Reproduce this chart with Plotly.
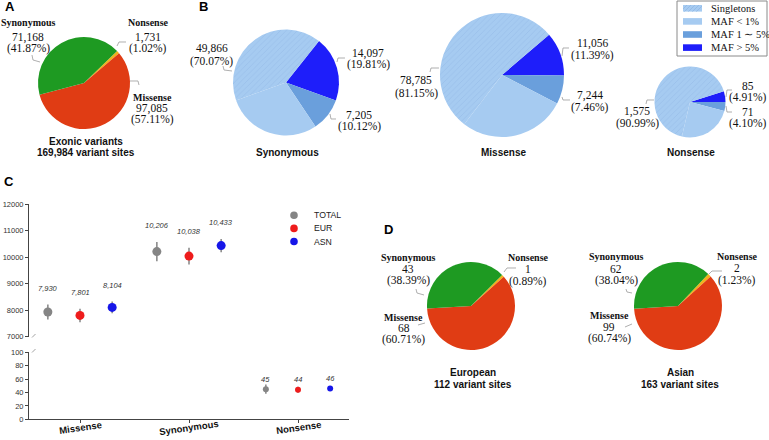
import plotly.graph_objects as go

W, H = 769, 440

# ---------------- data ----------------
# Panel A: exonic variants by class
a_labels = ["Nonsense", "Missense", "Synonymous"]
a_values = [1731, 97085, 71168]
a_title = ["Exonic variants", "169,984 variant sites"]

# Panel B: allele-frequency classes per variant type
b_panels = ["Synonymous", "Missense", "Nonsense"]
b_classes = ["MAF &gt; 5%", "MAF 1 ∼ 5%", "MAF &lt; 1%", "Singletons"]
b_gt5 = [14097, 11056, 85]
b_1to5 = [7205, 7244, 71]
b_lt1 = [20566, 27035, 425]          # estimated split of the rare slice
b_singletons = [29300, 51750, 1150]  # estimated split of the rare slice
b_legend_order = ["Singletons", "MAF &lt; 1%", "MAF 1 ∼ 5%", "MAF &gt; 5%"]

# Panel C: per-individual counts (mean, spread)
c_categories = ["Missense", "Synonymous", "Nonsense"]
c_groups = ["TOTAL", "EUR", "ASN"]
c_means = {
    "TOTAL": [7930, 10206, 45],
    "EUR": [7801, 10038, 44],
    "ASN": [8104, 10433, 46],
}
c_errs = {
    "TOTAL": [280, 365, 7],
    "EUR": [255, 315, 4.5],
    "ASN": [225, 250, 3],
}
c_upper_ticks = [7000, 8000, 9000, 10000, 11000, 12000]
c_lower_ticks = [0, 20, 40, 60, 80, 100]

# Panel D: population-specific variants
d_panels = ["European", "Asian"]
d_labels = ["Nonsense", "Missense", "Synonymous"]
d_values = {"European": [1, 68, 43], "Asian": [2, 99, 62]}

# ---------------- style ----------------
SERIF = "Liberation Serif"
SANS = "Liberation Sans"
GREEN, RED, ORANGE = "#1e9a22", "#e03c14", "#f2b21a"
LIGHT, MID, DARK = "#a6cbf1", "#6a9fdc", "#1e1efa"
HATCH = "#90b6e4"
C_COLORS = {"TOTAL": "#858585", "EUR": "#ee1c1c", "ASN": "#1616e8"}
LINE = "#9a9a9a"


def dom(cx, cy, r):
    return dict(x=[(cx - r) / W, (cx + r) / W], y=[1 - (cy + r) / H, 1 - (cy - r) / H])


def P(x, y):
    return x / W, 1 - y / H


annotations = []
shapes = []


def ann(px, py, text, size=11, family=SERIF, color="#111", xanchor="center", **kw):
    x, y = P(px, py)
    annotations.append(dict(x=x, y=y, xref="paper", yref="paper", text=text, showarrow=False,
                            xanchor=xanchor, yanchor="middle",
                            font=dict(size=size, family=family, color=color), **kw))


def leader(points):
    path = ""
    for i, (x, y) in enumerate(points):
        X, Y = P(x, y)
        path += ("M" if i == 0 else "L") + f"{X:.5f},{Y:.5f}"
    shapes.append(dict(type="path", path=path, xref="paper", yref="paper",
                       line=dict(color=LINE, width=0.8)))


fig = go.Figure()

# ---------------- Panel A ----------------
a_colors = {"Nonsense": ORANGE, "Missense": RED, "Synonymous": GREEN}
fig.add_trace(go.Pie(labels=a_labels, values=a_values, sort=False, direction="clockwise",
                     rotation=46, textinfo="none", showlegend=False,
                     marker=dict(colors=[a_colors[l] for l in a_labels], line=dict(width=0)),
                     domain=dom(84, 83, 46)))
a_total = sum(a_values)
a_pos = {"Synonymous": (28, [23, 37, 48]), "Nonsense": (148, [23, 37, 48]),
         "Missense": (152, [97, 108, 119])}
for lab, v in zip(a_labels, a_values):
    cx, ys = a_pos[lab]
    ann(cx, ys[0], f"<b>{lab}</b>", size=10)
    ann(cx, ys[1], f"{v:,}", size=11.5)
    ann(cx, ys[2], f"({100 * v / a_total:.2f}%)", size=11.5)
leader([(40, 62), (33, 60), (32, 55)])
leader([(117, 46), (119, 42), (126, 42)])
leader([(130, 81), (138, 81), (139, 85)])
ann(86, 141, f"<b>{a_title[0]}</b>", size=10, family=SANS)
ann(86, 153, f"<b>{a_title[1]}</b>", size=10, family=SANS)

# ---------------- Panel B ----------------
b_geom = [(286, 82.5, 53, 38.5), (502, 75, 62, 49.4), (690, 102, 35.5, 72.3)]
for i, name in enumerate(b_panels):
    cx, cy, r, rot = b_geom[i]
    vals = [b_gt5[i], b_1to5[i], b_lt1[i], b_singletons[i]]
    fig.add_trace(go.Pie(labels=b_classes, values=vals, sort=False, direction="clockwise",
                         rotation=rot, textinfo="none", showlegend=False,
                         marker=dict(colors=[DARK, MID, LIGHT, LIGHT], line=dict(width=0),
                                     pattern=dict(shape=["", "", "", "/"], fillmode="overlay",
                                                  fgcolor=HATCH, size=4, solidity=0.22)),
                         domain=dom(cx, cy, r)))
    ann(cx + 1, 152, f"<b>{name}</b>", size=10, family=SANS)

b_label_pos = [
    {"rare": (212, 48, 61), "gt5": (368, 53, 65), "mid": (359, 115, 127)},
    {"rare": (416, 80, 93), "gt5": (592, 43, 55), "mid": (590, 96, 107)},
    {"rare": (637, 112, 124), "gt5": (748, 86, 97.5), "mid": (748, 112.5, 124)},
]
for i in range(3):
    tot = b_gt5[i] + b_1to5[i] + b_lt1[i] + b_singletons[i]
    rare = b_lt1[i] + b_singletons[i]
    for key, v in (("rare", rare), ("gt5", b_gt5[i]), ("mid", b_1to5[i])):
        x, y1, y2 = b_label_pos[i][key]
        ann(x, y1, f"{v:,}", size=11.5)
        ann(x, y2, f"({100 * v / tot:.2f}%)", size=11.5)
leader([(232, 71), (224, 70), (223, 66)])
leader([(337, 62), (338, 58), (345, 58)])
leader([(330, 114), (331, 119), (336, 119)])
leader([(439, 68), (431, 68), (430, 72)])
leader([(562, 56), (563, 48), (569, 48)])
leader([(562, 97), (563, 100), (570, 100)])
leader([(726, 97), (727, 90), (732, 90)])
leader([(726, 106), (727, 112), (732, 112)])
leader([(654, 100), (647, 100), (646, 104)])

# manual legend for panel B
bx0, by0, bx1, by1 = P(677, 1) + P(767, 56)
shapes.append(dict(type="rect", xref="paper", yref="paper", x0=bx0, y0=by1, x1=bx1, y1=by0,
                   line=dict(color="#8a8a8a", width=1), fillcolor="white", layer="above"))
leg_fill = {"Singletons": LIGHT, "MAF &lt; 1%": LIGHT, "MAF 1 ∼ 5%": MID, "MAF &gt; 5%": DARK}
for k, lab in enumerate(b_legend_order):
    yc = 8.3 + 13.1 * k
    x0, y0 = P(683, yc - 3.3)
    x1, y1 = P(702, yc + 3.3)
    shapes.append(dict(type="rect", xref="paper", yref="paper", x0=x0, y0=y1, x1=x1, y1=y0,
                       line=dict(width=0), fillcolor=leg_fill[lab], layer="above"))
    if lab == "Singletons":
        for hx in range(683, 706, 4):
            xa_ = max(hx - 6.6, 683)
            xb_ = min(hx, 702)
            pts = [(xa_, yc + 3.3 - (xa_ - (hx - 6.6))), (xb_, yc - 3.3 + (hx - xb_))]
            xa, ya = P(*pts[0])
            xb, yb = P(*pts[1])
            shapes.append(dict(type="line", xref="paper", yref="paper", x0=xa, y0=ya, x1=xb, y1=yb,
                               line=dict(color=HATCH, width=0.8), layer="above"))
    ann(709, yc, lab, size=10.5, xanchor="left")

# ---------------- Panel C ----------------
c_offsets = {"TOTAL": -0.295, "EUR": 0.0, "ASN": 0.295}
for g in c_groups:
    xs = [i + c_offsets[g] for i in range(len(c_categories))]
    vals, errs = c_means[g], c_errs[g]
    fig.add_trace(go.Scatter(x=xs[:2], y=vals[:2], xaxis="x", yaxis="y2", mode="markers",
                             name=g, showlegend=False, cliponaxis=False,
                             marker=dict(color=C_COLORS[g], size=9),
                             error_y=dict(type="data", array=errs[:2], color="#8c8c8c",
                                          thickness=1.6, width=0)))
    fig.add_trace(go.Scatter(x=xs[2:], y=vals[2:], xaxis="x", yaxis="y", mode="markers",
                             name=g, showlegend=False, cliponaxis=False,
                             marker=dict(color=C_COLORS[g], size=6),
                             error_y=dict(type="data", array=errs[2:], color="#8c8c8c",
                                          thickness=1.6, width=0)))
    for i in range(len(c_categories)):
        upper = i < 2
        annotations.append(dict(x=xs[i], y=vals[i] + errs[i] if upper else vals[i],
                                xref="x", yref="y2" if upper else "y",
                                text=f"<i>{vals[i]:,}</i>", showarrow=False,
                                yshift=16 if upper else 10,
                                font=dict(size=7.5, family=SANS, color="#333")))

# category labels (slightly rotated, centred under ticks)
for i, cat in enumerate(c_categories):
    annotations.append(dict(x=i, y=1 - 427 / H, xref="x", yref="paper", text=f"<b>{cat}</b>",
                            showarrow=False, textangle=-8, xanchor="center", yanchor="middle",
                            font=dict(size=9.5, family=SANS, color="#111")))

# manual legend for panel C
for k, g in enumerate(c_groups):
    yc = 215.3 + 13.1 * k
    x0, y0 = P(290.2, yc - 3.8)
    x1, y1 = P(297.8, yc + 3.8)
    shapes.append(dict(type="circle", xref="paper", yref="paper", x0=x0, y0=y1, x1=x1, y1=y0,
                       line=dict(width=0), fillcolor=C_COLORS[g]))
    ann(312, yc, g, size=8.7, family=SANS, color="#222", xanchor="left")

# axis break marks
for (xa, ya, xb, yb) in [(32, 337.5, 35.5, 334), (32, 352.5, 35.5, 349)]:
    X0, Y0 = P(xa, ya)
    X1, Y1 = P(xb, yb)
    shapes.append(dict(type="line", xref="paper", yref="paper", x0=X0, y0=Y0, x1=X1, y1=Y1,
                       line=dict(color="#8a8a8a", width=0.8)))

# ---------------- Panel D ----------------
d_colors = {"Nonsense": ORANGE, "Missense": RED, "Synonymous": GREEN}
d_geom = {"European": (471, 306, 44, 45), "Asian": (678, 306, 44, 43.5)}
d_pos = {
    "European": {"Synonymous": (408, [257.5, 268.5, 280.5]), "Nonsense": (528, [257, 269, 281]),
                 "Missense": (404, [317, 328, 339.5])},
    "Asian": {"Synonymous": (616, [256.5, 268.5, 280.5]), "Nonsense": (737, [256, 268, 280]),
              "Missense": (609, [315, 327, 338.5])},
}
for name in d_panels:
    cx, cy, r, rot = d_geom[name]
    vals = d_values[name]
    fig.add_trace(go.Pie(labels=d_labels, values=vals, sort=False, direction="clockwise",
                         rotation=rot, textinfo="none", showlegend=False,
                         marker=dict(colors=[d_colors[l] for l in d_labels], line=dict(width=0)),
                         domain=dom(cx, cy, r)))
    tot = sum(vals)
    for lab, v in zip(d_labels, vals):
        x, ys = d_pos[name][lab]
        ann(x, ys[0], f"<b>{lab}</b>", size=10)
        ann(x, ys[1], f"{v:,}", size=11.5)
        ann(x, ys[2], f"({100 * v / tot:.2f}%)", size=11.5)
    ann(cx + 2, 372, f"<b>{name}</b>", size=10, family=SANS)
    ann(cx + 2, 384, f"<b>{tot} variant sites</b>", size=10, family=SANS)
leader([(424, 295), (417, 293), (416, 289)])
leader([(504, 272), (507, 268), (516, 268)])
leader([(425, 323), (418, 325)])
leader([(632, 293), (627, 292), (626, 289)])
leader([(709, 274), (712, 271), (722, 271)])
leader([(632, 324), (625, 327)])

# panel letters
for letter, (x, y) in {"A": (9.5, 7), "B": (203, 7), "C": (8.5, 182), "D": (389, 229)}.items():
    ann(x, y, f"<b>{letter}</b>", size=13, family=SANS, color="#000")

# ---------------- axes ----------------
axis_common = dict(showgrid=False, zeroline=False, showline=True, linecolor="#444", linewidth=1,
                   ticks="outside", ticklen=3, tickcolor="#444")
x0_val = -(80 - 29) / 109
fig.update_layout(
    width=W, height=H, margin=dict(l=0, r=0, t=0, b=0), template="none",
    paper_bgcolor="white", plot_bgcolor="white", showlegend=False,
    xaxis=dict(domain=[29 / W, 349 / W], range=[x0_val, x0_val + 320 / 109], anchor="y",
               tickvals=list(range(len(c_categories))), showticklabels=False, **axis_common),
    yaxis=dict(domain=[1 - 419.3 / H, 1 - 352.3 / H], range=[0, 100], anchor="x",
               tickvals=c_lower_ticks, tickfont=dict(size=7.5, family=SANS, color="#333"),
               **axis_common),
    yaxis2=dict(domain=[1 - 336.7 / H, 1 - 204 / H], range=[7000, 12000], anchor="x",
                tickvals=c_upper_ticks, tickformat="d",
                tickfont=dict(size=7.5, family=SANS, color="#333"), **axis_common),
    annotations=annotations, shapes=shapes,
)

fig.write_html("out.html", config={"displayModeBar": False},
               post_script="document.body.style.margin='0';document.body.style.padding='0';")
